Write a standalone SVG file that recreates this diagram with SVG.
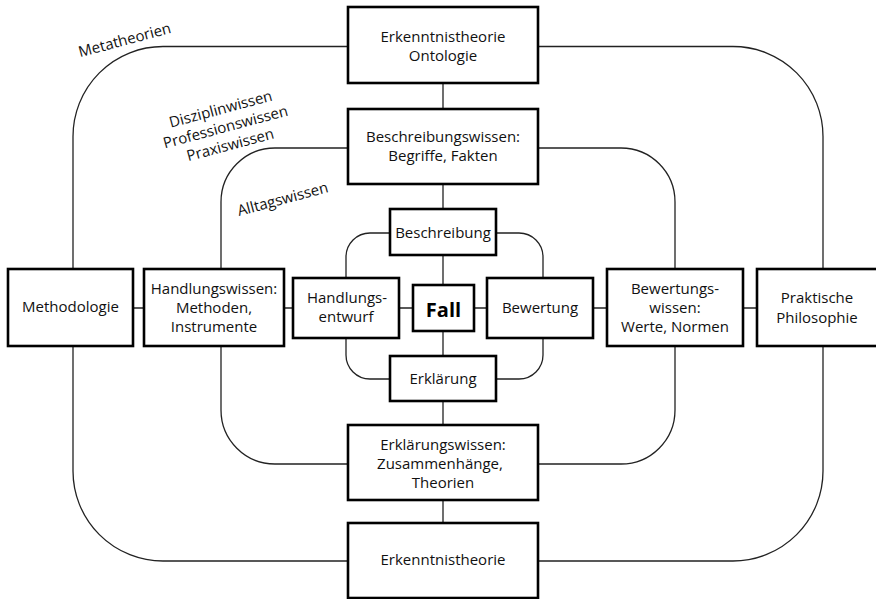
<svg xmlns="http://www.w3.org/2000/svg" width="876" height="599" viewBox="0 0 876 599">
<style>
.box{fill:#fff;stroke:#000;stroke-width:2.6}
.t{font-family:"Open Sans","Noto Sans","DejaVu Sans",sans-serif;font-size:15px;fill:#111;text-anchor:middle}
.lbl{font-family:"Open Sans","Noto Sans","DejaVu Sans",sans-serif;font-size:15px;fill:#111;text-anchor:middle}
.fall{font-family:"Open Sans","Noto Sans","DejaVu Sans",sans-serif;font-size:20px;font-weight:bold;fill:#000;text-anchor:middle}
.c{fill:none;stroke:#222;stroke-width:1.3}
</style>
<rect width="876" height="599" fill="#fff"/>
<g id="connectors">
<path class="c" d="M348,46.5 H163 A90,90 0 0 0 73,136.5 V269"/>
<path class="c" d="M538,46.5 H733 A90,90 0 0 1 823,136.5 V269"/>
<path class="c" d="M73,346 V471 A90,90 0 0 0 163,561 H348"/>
<path class="c" d="M823,346 V471 A90,90 0 0 1 733,561 H538"/>
<path class="c" d="M348,148 H275 A54,54 0 0 0 221,202 V269"/>
<path class="c" d="M538,148 H621 A54,54 0 0 1 675,202 V269"/>
<path class="c" d="M221,346 V410 A54,54 0 0 0 275,464 H348"/>
<path class="c" d="M675,346 V410 A54,54 0 0 1 621,464 H538"/>
<path class="c" d="M390,233 H370 A24,24 0 0 0 346,257 V278"/>
<path class="c" d="M496,233 H519 A24,24 0 0 1 543,257 V278"/>
<path class="c" d="M346,338 V355 A24,24 0 0 0 370,379 H390"/>
<path class="c" d="M543,338 V355 A24,24 0 0 1 519,379 H496"/>
<path class="c" d="M443,83 V109 M443,184 V209 M443,255 V285 M443,331 V356 M443,401 V425 M443,500 V523"/>
<path class="c" d="M133,308 H144 M284,308 H293 M399,308 H413 M474,308 H487 M593,308 H607 M743,308 H757"/>
</g>
<g id="labels">
<text class="lbl" transform="translate(126,45) rotate(-15)">Metatheorien</text>
<g transform="translate(222,114) rotate(-15)">
<text class="lbl" x="0" y="0">Disziplinwissen</text>
<text class="lbl" x="0" y="18.5">Professionswissen</text>
<text class="lbl" x="0" y="37">Praxiswissen</text>
</g>
<text class="lbl" transform="translate(284,204) rotate(-15)">Alltagswissen</text>
</g>
<g id="n-erkenntnis-onto">
<rect class="box" x="348" y="7" width="190" height="76"/>
<text class="t" x="443" y="42">Erkenntnistheorie</text>
<text class="t" x="443" y="61">Ontologie</text>
</g>
<g id="n-beschreibungswissen">
<rect class="box" x="348" y="109" width="190" height="75"/>
<text class="t" x="443" y="142">Beschreibungswissen:</text>
<text class="t" x="443" y="161">Begriffe, Fakten</text>
</g>
<g id="n-beschreibung">
<rect class="box" x="390" y="209" width="106" height="46"/>
<text class="t" x="443" y="237.5">Beschreibung</text>
</g>
<g id="n-methodologie">
<rect class="box" x="8" y="269" width="125" height="77"/>
<text class="t" x="70.5" y="312">Methodologie</text>
</g>
<g id="n-handlungswissen">
<rect class="box" x="144" y="269" width="140" height="77"/>
<text class="t" x="214" y="294">Handlungswissen:</text>
<text class="t" x="214" y="313">Methoden,</text>
<text class="t" x="214" y="332">Instrumente</text>
</g>
<g id="n-handlungsentwurf">
<rect class="box" x="293" y="278" width="106" height="60"/>
<text class="t" x="347" y="302.5">Handlungs-</text>
<text class="t" x="346" y="321.5">entwurf</text>
</g>
<g id="n-fall">
<rect class="box" x="413" y="285" width="61" height="46"/>
<text class="fall" x="443.5" y="317">Fall</text>
</g>
<g id="n-bewertung">
<rect class="box" x="487" y="278" width="106" height="60"/>
<text class="t" x="540" y="313">Bewertung</text>
</g>
<g id="n-bewertungswissen">
<rect class="box" x="607" y="269" width="136" height="77"/>
<text class="t" x="675" y="293.5">Bewertungs-</text>
<text class="t" x="675" y="312.5">wissen:</text>
<text class="t" x="675" y="331.5">Werte, Normen</text>
</g>
<g id="n-praktische">
<rect class="box" x="757" y="269" width="134" height="77"/>
<text class="t" x="817" y="303">Praktische</text>
<text class="t" x="817" y="323">Philosophie</text>
</g>
<g id="n-erklaerung">
<rect class="box" x="390" y="356" width="106" height="45"/>
<text class="t" x="443" y="384">Erklärung</text>
</g>
<g id="n-erklaerungswissen">
<rect class="box" x="348" y="425" width="190" height="75"/>
<text class="t" x="443" y="449.5">Erklärungswissen:</text>
<text class="t" x="440" y="468.5">Zusammenhänge,</text>
<text class="t" x="443" y="487.5">Theorien</text>
</g>
<g id="n-erkenntnistheorie">
<rect class="box" x="348" y="523" width="190" height="75"/>
<text class="t" x="443" y="565">Erkenntnistheorie</text>
</g>
</svg>
